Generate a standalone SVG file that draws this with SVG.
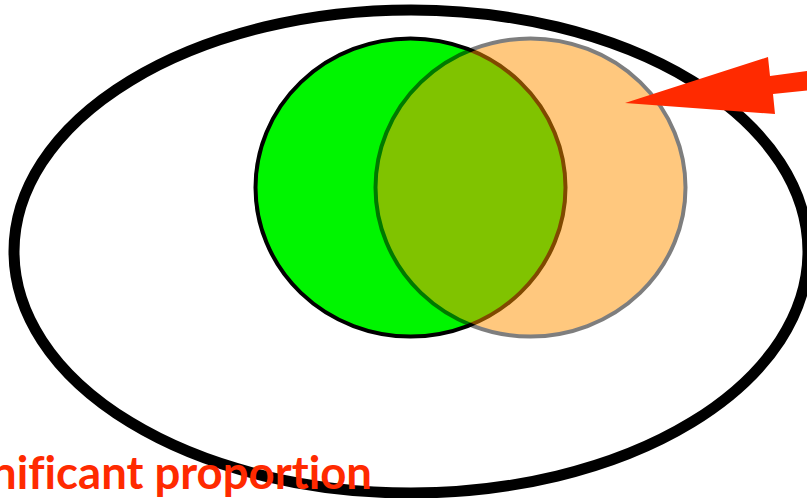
<svg xmlns="http://www.w3.org/2000/svg" width="807" height="498" viewBox="0 0 807 498">
<style>
.lbl{font-family:"Lato","Open Sans","Liberation Sans",sans-serif;font-weight:bold;fill:#FF2A00;font-variant-ligatures:none;font-feature-settings:"liga" 0}
</style>
<rect width="807" height="498" fill="#ffffff"/>
<g id="universe">
<ellipse cx="411" cy="251.5" rx="397" ry="241.5" fill="none" stroke="#000" stroke-width="11"/>
</g>
<g id="green-set">
<ellipse cx="410.5" cy="187.5" rx="155" ry="149" fill="#00F500" stroke="#000" stroke-width="4"/>
</g>
<g id="orange-set" opacity="0.5">
<ellipse cx="530.5" cy="187.5" rx="155" ry="149" fill="#FF9200" stroke="#000" stroke-width="4"/>
</g>
<g id="connectors">
<polygon points="625,103 768,57 770,76 830,68 830,88 773,94 775,114" fill="#FF2A00"/>
</g>
<g id="label">
<text class="lbl" x="372" y="489" font-size="45.5" text-anchor="end">nificant proportion</text>
</g>
</svg>
